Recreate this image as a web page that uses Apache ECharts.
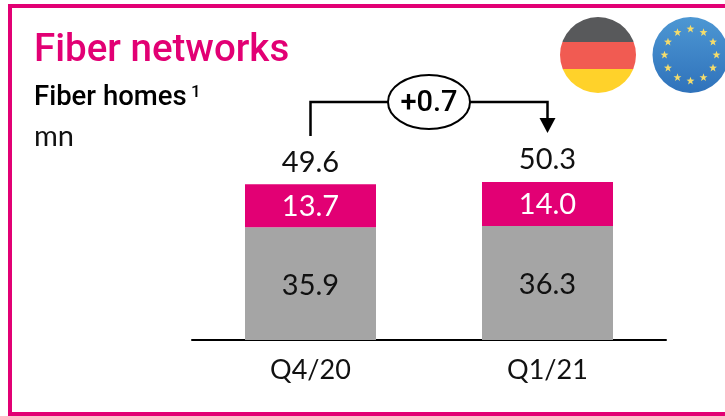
<!DOCTYPE html>
<html>
<head>
<meta charset="utf-8">
<style>
  html, body { margin: 0; padding: 0; background: #fff; }
  #main { width: 725px; height: 416px; }
</style>
<script src="https://cdn.jsdelivr.net/npm/echarts@6/dist/echarts.min.js"></script>
</head>
<body>
<div id="main"></div>
<script>
var categories = ["Q4/20", "Q1/21"];
var greyValues = [35.9, 36.3];
var pinkValues = [13.7, 14.0];
var totalValues = [49.6, 50.3];
var changeLabel = "+0.7";

var magenta = "#e20074";
var labelFont = "Lato";

var chart = echarts.init(document.getElementById("main"));

var valueLabel = function (color, dy) {
  return {
    show: true,
    position: "inside",
    offset: [0, dy],
    color: color,
    fontFamily: labelFont,
    fontSize: 29,
    fontWeight: 400,
    formatter: function (p) { return p.value.toFixed(1); }
  };
};

chart.setOption({
  animation: false,
  grid: { left: 192, width: 474, top: 26, height: 314 },
  xAxis: {
    type: "category",
    data: categories,
    axisTick: { show: false },
    axisLine: { lineStyle: { color: "#000", width: 2 } },
    axisLabel: { color: "#111", fontFamily: labelFont, fontSize: 27, fontWeight: 400, margin: 17 }
  },
  yAxis: { type: "value", min: 0, max: 100, show: false },
  series: [
    {
      type: "bar", stack: "homes", data: greyValues, barWidth: 131,
      itemStyle: { color: "#a5a5a5" }, label: valueLabel("#111", 2)
    },
    {
      type: "bar", stack: "homes", data: pinkValues, barWidth: 131,
      itemStyle: { color: magenta }, label: valueLabel("#fff", 1)
    },
    {
      type: "line", data: totalValues, symbol: "circle", symbolSize: 1,
      lineStyle: { opacity: 0 },
      itemStyle: { color: "transparent" },
      label: {
        show: true, position: "top", distance: 7, color: "#111",
        fontFamily: labelFont, fontSize: 29, fontWeight: 400,
        formatter: function (p) { return p.value.toFixed(1); }
      }
    }
  ]
});

// bracket ends follow the bar centres
var x0 = chart.convertToPixel({ xAxisIndex: 0 }, categories[0]);
var x1 = chart.convertToPixel({ xAxisIndex: 0 }, categories[1]);
var bracketY = 102;
var bubbleX = 429;

// EU star ring
var stars = [];
for (var i = 0; i < 12; i++) {
  var a = i * Math.PI / 6;
  var cx = 690.5 + 26 * Math.sin(a);
  var cy = 55 - 26 * Math.cos(a);
  var pts = [];
  for (var k = 0; k < 10; k++) {
    var r = k % 2 ? 1.7 : 4.2;
    var b = k * Math.PI / 5;
    pts.push([cx + r * Math.sin(b), cy - r * Math.cos(b)]);
  }
  stars.push({ type: "polygon", shape: { points: pts }, style: { fill: "#f4dc6c" } });
}

var lineStyle = { stroke: "#000", lineWidth: 2.5, fill: null };

chart.setOption({
  graphic: [
    // frame
    { type: "rect", shape: { x: 10, y: 6, width: 730, height: 408 }, style: { fill: null, stroke: magenta, lineWidth: 4 } },
    // heading
    { type: "text", x: 34, y: 32, style: { text: "Fiber networks", fill: magenta, font: "500 38.5px Roboto" } },
    { type: "text", x: 34, y: 84, style: { text: "Fiber homes", fill: "#000", font: "500 27.5px Roboto" } },
    { type: "text", x: 191, y: 84, style: { text: "1", fill: "#000", font: "500 17px Roboto" } },
    { type: "text", x: 34, y: 122, style: { text: "mn", fill: "#111", font: "400 29px Lato" } },
    // flags
    {
      type: "circle", shape: { cx: 598, cy: 55, r: 38 },
      style: {
        fill: new echarts.graphic.LinearGradient(0, 0, 0, 1, [
          { offset: 0, color: "#58595b" }, { offset: 0.33, color: "#58595b" },
          { offset: 0.33, color: "#f15b52" }, { offset: 0.68, color: "#f15b52" },
          { offset: 0.68, color: "#ffd22a" }, { offset: 1, color: "#ffd22a" }
        ])
      }
    },
    {
      type: "circle", shape: { cx: 690.5, cy: 55, r: 38 },
      style: {
        fill: new echarts.graphic.LinearGradient(0, 0, 0, 1, [
          { offset: 0, color: "#4d97d3" }, { offset: 1, color: "#2f72bb" }
        ])
      }
    },
    { type: "group", children: stars },
    // change bracket
    { type: "polyline", shape: { points: [[x0, 136], [x0, bracketY], [bubbleX - 41, bracketY]] }, style: lineStyle },
    { type: "polyline", shape: { points: [[bubbleX + 41, bracketY], [x1, bracketY], [x1, 119]] }, style: lineStyle },
    { type: "polygon", shape: { points: [[x1 - 8, 118], [x1 + 8, 118], [x1, 133]] }, style: { fill: "#000" } },
    { type: "ellipse", shape: { cx: bubbleX, cy: bracketY, rx: 41, ry: 27 }, style: { fill: "#fff", stroke: "#000", lineWidth: 2 } },
    {
      type: "text", x: bubbleX, y: bracketY + 2,
      style: { text: changeLabel, fill: "#000", font: "500 29px Roboto", textAlign: "center", textVerticalAlign: "middle" }
    }
  ]
});
</script>
</body>
</html>
